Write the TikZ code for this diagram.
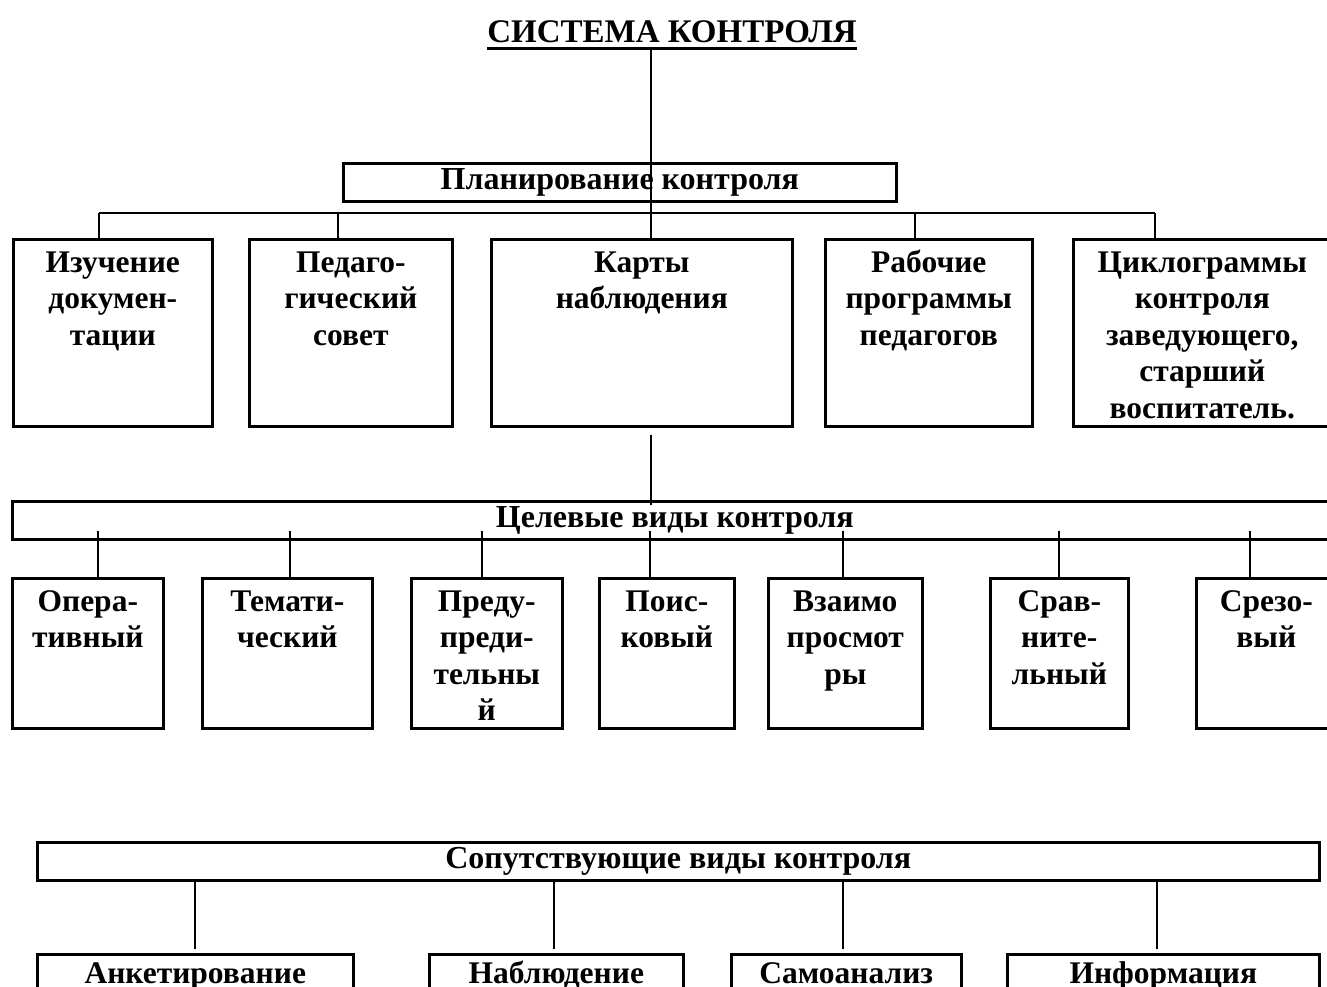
\documentclass[tikz,border=0pt]{standalone}
\usepackage{fontspec}
\setmainfont{Liberation Serif}
\usepackage{tikz}
\usetikzlibrary{calc}

\tikzset{
	box/.style = {draw, line width = 2.6pt, anchor = north west, inner sep = 0pt, font = \bfseries\fontsize{31.5}{36.5}\selectfont},
	bar/.style = {box, minimum height = 38pt, font = \bfseries\fontsize{32}{36.5}\selectfont},
	link/.style = {line width = 1.3pt}
}
\newcommand{\boxtext}[4][33pt]{\parbox[c][#3][t]{#2}{\centering\rule{0pt}{#1}#4}}
\newcommand{\heading}[1]{\setbox0=\hbox{#1}\rlap{\vrule height -4pt depth 7pt width \wd0}\box0}

\begin{document}
\begin{tikzpicture}[x = 1pt, y = -1pt]
	\useasboundingbox (0,0) rectangle (1327,987);
	\clip (0,0) rectangle (1327,987);
	
	\node [anchor = base, inner sep = 0pt, font = \bfseries\fontsize{33}{36.5}\selectfont] (title) at (672,43) {\heading{СИСТЕМА КОНТРОЛЯ}};
	\coordinate (spine) at (651,0);
	
	\node [bar, minimum width = 553pt] (plan) at (342,162) {Планирование контроля};
	
	\node [box] (izuch) at (12,238) {\boxtext{199pt}{187pt}{Изучение\\докумен-\\тации}};
	\node [box] (ped) at (248,238) {\boxtext{203pt}{187pt}{Педаго-\\гический\\совет}};
	\node [box] (karty) at (490,238) {\boxtext{301pt}{187pt}{Карты\\наблюдения}};
	\node [box] (rab) at (824,238) {\boxtext{207pt}{187pt}{Рабочие\\программы\\педагогов}};
	\node [box] (cycl) at (1072,238) {\boxtext{258pt}{187pt}{Циклограммы\\контроля\\заведующего,\\старший\\воспитатель.}};
	
	\draw [link] (title.south -| spine) -- (karty.north -| spine);
	\coordinate (bus) at (0,213);
	\draw [link] (bus -| 99,0) -- (bus -| 1155,0);
	\foreach \n/\x in {izuch/99, ped/338, karty/651, rab/915, cycl/1155}
		\draw [link] (bus -| \x,0) -- (\n.north -| \x,0);
	
	\node [bar, minimum width = 1325pt] (celevye) at (11,500) {Целевые виды контроля};
	\draw [link, shorten <= 7pt, shorten >= -5pt] (karty.south -| spine) -- (celevye.north -| spine);
	
	\node [box] (oper) at (11,577) {\boxtext{151pt}{150pt}{Опера-\\тивный}};
	\node [box] (temat) at (201,577) {\boxtext{170pt}{150pt}{Темати-\\ческий}};
	\node [box] (predu) at (410,577) {\boxtext{151pt}{150pt}{Преду-\\преди-\\тельны\\й}};
	\node [box] (poisk) at (598,577) {\boxtext{135pt}{150pt}{Поис-\\ковый}};
	\node [box] (vzaim) at (767,577) {\boxtext{154pt}{150pt}{Взаимо\\просмот\\ры}};
	\node [box] (sravn) at (989,577) {\boxtext{138pt}{150pt}{Срав-\\ните-\\льный}};
	\node [box] (srez) at (1195,577) {\boxtext{140pt}{150pt}{Срезо-\\вый}};
	
	\foreach \n/\x in {oper/98, temat/290, predu/482, poisk/650, vzaim/843, sravn/1059, srez/1250}
		\draw [link, shorten <= -10pt] (celevye.south -| \x,0) -- (\n.north -| \x,0);
	
	\node [bar, minimum width = 1282pt] (soput) at (36,841) {Сопутствующие виды контроля};
	
	\node [box] (anket) at (36,953) {\boxtext[29pt]{316pt}{80pt}{Анкетирование}};
	\node [box] (nabl) at (428,953) {\boxtext[29pt]{254pt}{80pt}{Наблюдение}};
	\node [box] (samo) at (730,953) {\boxtext[29pt]{230pt}{80pt}{Самоанализ}};
	\node [box] (inform) at (1006,953) {\boxtext[29pt]{312pt}{80pt}{Информация}};
	
	\foreach \n/\x in {anket/195, nabl/554, samo/843, inform/1157}
		\draw [link, shorten >= 4pt] (soput.south -| \x,0) -- (\n.north -| \x,0);
\end{tikzpicture}
\end{document}
